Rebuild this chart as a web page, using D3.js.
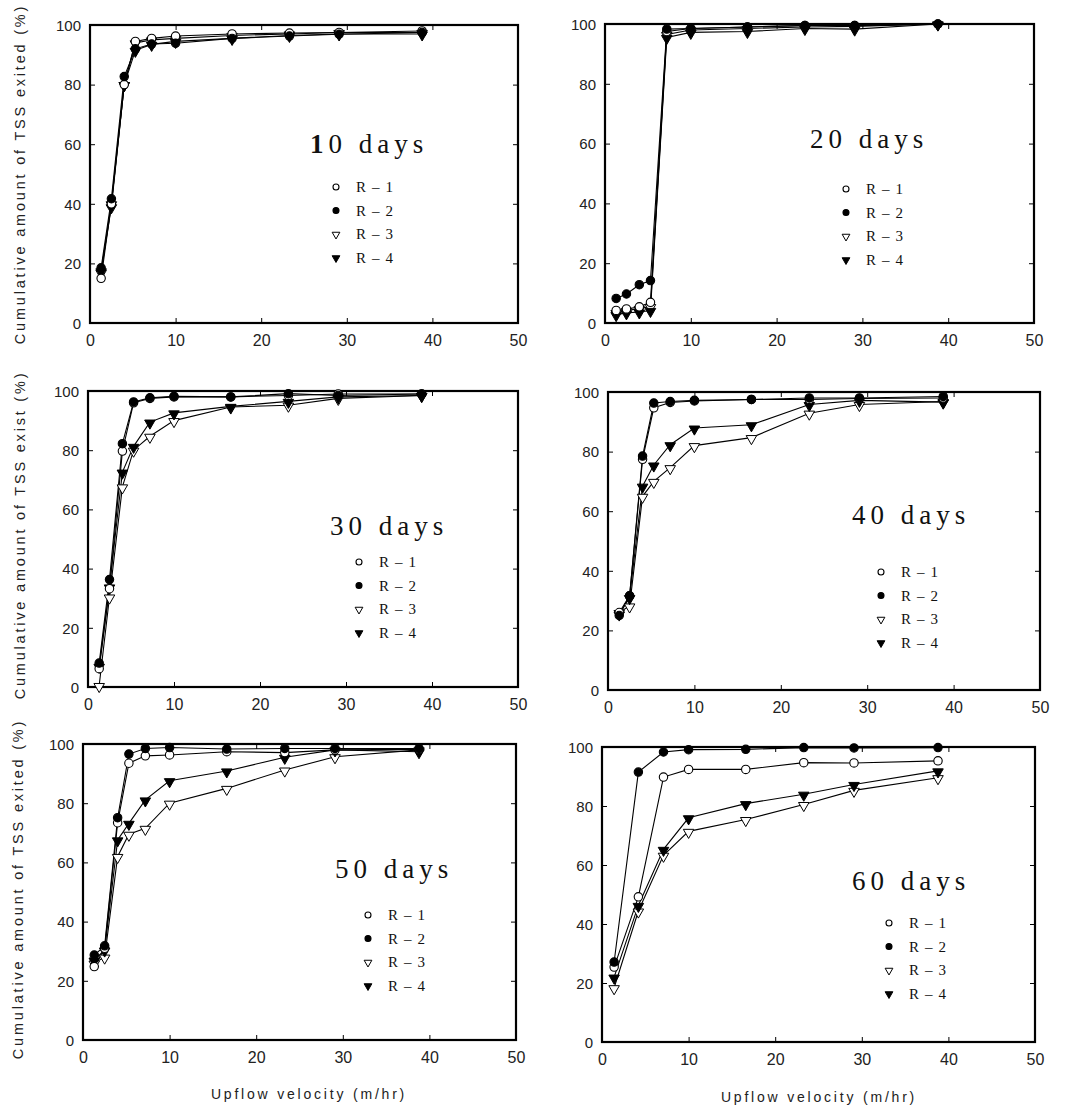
<!DOCTYPE html>
<html>
<head>
<meta charset="utf-8">
<script src="https://cdn.jsdelivr.net/npm/d3@7"></script>
<style>
  body { margin: 0; background: #fff; }
  svg { display: block; }
</style>
</head>
<body>
<div class="chart"></div>
<script>
// upflow velocity (m/hr) at each run
const velocity = [1.3, 2.5, 4.0, 5.3, 7.2, 10.0, 16.6, 23.3, 29.1, 38.8];
const velocity60 = [1.4, 4.2, 7.1, 10.0, 16.6, 23.3, 29.1, 38.8];

const seriesNames = ['R-1', 'R-2', 'R-3', 'R-4'];
const xTicks = [0, 10, 20, 30, 40, 50];
const yTicks = [0, 20, 40, 60, 80, 100];

// cumulative TSS exited (%), one array per reactor: R-1, R-2, R-3, R-4
const day10 = [
  [15, 40, 80, 94.5, 95.5, 96.3, 97, 97.3, 97.5, 98],
  [18.5, 41.7, 82.7, 92, 93.6, 93.9, 95.5, 96.3, 96.9, 97.5],
  [17, 40, 80, 94, 95, 95.5, 96.5, 97, 97.5, 97.5],
  [17.5, 39, 80, 91.5, 93.5, 94.5, 95.5, 96.5, 97, 97]
];
const day20 = [
  [4.2, 4.7, 5.4, 6.9, 97.5, 98.5, 99, 99.5, 99.5, 100],
  [8.2, 9.7, 12.8, 14.2, 98.3, 98.5, 99, 99.5, 99.5, 100],
  [3.5, 4.2, 4.8, 5.5, 96.5, 98, 98.5, 99, 99.2, 100],
  [2.8, 3.4, 3.7, 4.2, 95.5, 97.2, 97.5, 98.5, 98.3, 100]
];
const day30 = [
  [6.2, 33.2, 79.7, 96, 97.5, 98, 98, 98.5, 99, 99],
  [8.1, 36.3, 82.2, 96.3, 97.7, 98.2, 98, 99.1, 98.5, 99],
  [0.5, 30.4, 67.6, 80, 84.7, 90, 94.6, 95.2, 97.5, 98.5],
  [7, 33.8, 72.6, 81.3, 89.5, 92.6, 94.8, 96.5, 98, 98.5]
];
const day40 = [
  [26, 31.6, 77.4, 94.7, 96.5, 97, 97.5, 97.5, 97.8, 98],
  [25, 31.6, 78.5, 96.3, 96.8, 97.2, 97.5, 98, 98, 98.5],
  [26, 28.2, 65, 70, 74.6, 82, 84.7, 92.9, 95.8, 96.8],
  [25.5, 31, 68.4, 75.5, 82.3, 87.9, 89, 95.8, 97.2, 96.6]
];
const day50 = [
  [24.8, 31, 73.4, 93.5, 96, 96.3, 97.4, 97.1, 98, 98.2],
  [28.7, 31.8, 75.1, 96.6, 98.5, 98.8, 98.3, 98.5, 98.5, 98.5],
  [26, 28, 62, 69.5, 71.5, 80, 85, 91.2, 95.7, 98],
  [27, 30.4, 67.6, 73.2, 81.1, 87.6, 90.9, 95.5, 98, 97.4]
];
const day60 = [
  [25.4, 49.2, 89.8, 92.4, 92.4, 94.7, 94.6, 95.3],
  [27.1, 91.5, 98.3, 99.1, 99.2, 99.8, 99.7, 99.8],
  [18.4, 44.4, 63.3, 71.4, 75.4, 80.5, 85.3, 89.6],
  [22, 46.3, 65.3, 76, 80.8, 84, 87.3, 91.9]
];

const yLabel1 = 'Cumulative amount of TSS exited (%)';
const yLabel2 = 'Cumulative amount of TSS exist (%)';
const xLabel = 'Upflow velocity (m/hr)';

const w = 1072, h = 1110;

// plot boxes and where the title / legend sit inside them
const panels = [
  {title: '10 days', xs: velocity, ys: day10, box: [90, 518, 25, 323],
   tx: 310, ty: 153, lx: 336, ly: 187, ylab: yLabel1, ylx: 20, yly: 174},
  {title: '20 days', xs: velocity, ys: day20, box: [605, 1034, 24, 323],
   tx: 810, ty: 148, lx: 846, ly: 189},
  {title: '30 days', xs: velocity, ys: day30, box: [88, 518, 391, 687],
   tx: 330, ty: 535, lx: 359, ly: 562, ylab: yLabel2, ylx: 20, yly: 535},
  {title: '40 days', xs: velocity, ys: day40, box: [608, 1040, 392, 690],
   tx: 852, ty: 524, lx: 881, ly: 572},
  {title: '50 days', xs: velocity, ys: day50, box: [83, 516, 744, 1040],
   tx: 335, ty: 878, lx: 368, ly: 915, ylab: yLabel1, ylx: 18, yly: 889,
   xlab: true, xlx: 309, xly: 1099},
  {title: '60 days', xs: velocity60, ys: day60, box: [602, 1035, 747, 1042],
   tx: 852, ty: 890, lx: 889, ly: 923, xlab: true, xlx: 819, xly: 1102}
];

const svg = d3.select('.chart')
  .append('svg')
  .attr('width', w)
  .attr('height', h);

svg.append('rect').attr('width', w).attr('height', h).attr('fill', '#fff');

const sansFont = '"Liberation Sans", Arial, sans-serif';
const serifFont = '"Liberation Serif", "DejaVu Serif", serif';

function marker(g, k, x, y, big) {
  const r = big ? 4.2 : 3;
  if (k < 2) {
    g.append('circle')
      .attr('cx', x).attr('cy', y).attr('r', r)
      .attr('fill', k == 1 ? '#000' : '#fff')
      .attr('stroke', '#000')
      .attr('stroke-width', 1.1);
  } else {
    const size = big ? 48 : 26;
    g.append('path')
      .attr('d', d3.symbol().type(d3.symbolTriangle).size(size)())
      .attr('transform', `translate(${x},${y + (big ? 1 : 0.5)}) rotate(180)`)
      .attr('fill', k == 3 ? '#000' : '#fff')
      .attr('stroke', '#000')
      .attr('stroke-width', 1);
  }
}

panels.forEach(function(p) {
  const [left, right, top, bottom] = p.box;
  const x = d3.scaleLinear().domain([0, 50]).range([left, right]);
  const y = d3.scaleLinear().domain([0, 100]).range([bottom, top]);
  const g = svg.append('g');

  // axes with inward ticks
  const xAx = g.append('g')
    .attr('transform', `translate(0,${bottom})`)
    .call(d3.axisBottom(x).tickValues(xTicks).tickSize(-5).tickPadding(12));
  const yAx = g.append('g')
    .attr('transform', `translate(${left},0)`)
    .call(d3.axisLeft(y).tickValues(yTicks).tickSize(-5).tickPadding(9));
  g.append('g')
    .attr('transform', `translate(0,${top})`)
    .call(d3.axisTop(x).tickValues(xTicks.slice(1, -1)).tickSize(-5).tickFormat(''));
  g.append('g')
    .attr('transform', `translate(${right},0)`)
    .call(d3.axisRight(y).tickValues(yTicks.slice(1, -1)).tickSize(-5).tickFormat(''));

  g.selectAll('.domain').remove();
  g.selectAll('.tick line').attr('stroke', '#000').attr('stroke-width', 1);
  xAx.selectAll('text').attr('font-family', sansFont).attr('font-size', 16)
    .attr('fill', '#222');
  yAx.selectAll('text').attr('font-family', sansFont).attr('font-size', 15)
    .attr('fill', '#222').attr('dy', '0.35em');

  g.append('rect')
    .attr('x', left).attr('y', top)
    .attr('width', right - left).attr('height', bottom - top)
    .attr('fill', 'none')
    .attr('stroke', '#000')
    .attr('stroke-width', 2.2);

  const line = d3.line()
    .x((d, i) => x(p.xs[i]))
    .y(d => y(d));

  // lines first, then the markers on top
  p.ys.forEach(function(vals) {
    g.append('path')
      .datum(vals)
      .attr('d', line)
      .attr('fill', 'none')
      .attr('stroke', '#000')
      .attr('stroke-width', 1.1);
  });
  [2, 3, 0, 1].forEach(function(k) {
    p.ys[k].forEach(function(v, i) {
      marker(g, k, x(p.xs[i]), y(v), true);
    });
  });

  // title
  const t = g.append('text')
    .attr('x', p.tx).attr('y', p.ty)
    .attr('font-family', serifFont)
    .attr('font-size', 27)
    .attr('letter-spacing', 5)
    .attr('fill', '#111');
  if (p.title == '10 days') {
    t.append('tspan').attr('font-weight', 'bold').text('1');
    t.append('tspan').text('0 days');
  } else {
    t.text(p.title);
  }

  // legend
  seriesNames.forEach(function(name, k) {
    const ry = p.ly + k * 23.5;
    marker(g, k, p.lx, ry, false);
    g.append('text')
      .attr('x', p.lx + 20).attr('y', ry + 5)
      .attr('font-family', serifFont)
      .attr('font-size', 15)
      .attr('letter-spacing', 1.5)
      .attr('fill', '#111')
      .text(name.replace('-', ' \u2013 ').replace(/ /g, '\u2009'));
  });

  if (p.ylab) {
    g.append('text')
      .attr('transform', `translate(${p.ylx},${p.yly}) rotate(-90)`)
      .attr('text-anchor', 'middle')
      .attr('dy', '0.35em')
      .attr('font-family', sansFont)
      .attr('font-size', 14.5)
      .attr('letter-spacing', 2.8)
      .attr('fill', '#222')
      .text(p.ylab);
  }
  if (p.xlab) {
    g.append('text')
      .attr('x', p.xlx).attr('y', p.xly)
      .attr('text-anchor', 'middle')
      .attr('font-family', sansFont)
      .attr('font-size', 14)
      .attr('letter-spacing', 2.8)
      .attr('fill', '#222')
      .text(xLabel);
  }
});
</script>
</body>
</html>
